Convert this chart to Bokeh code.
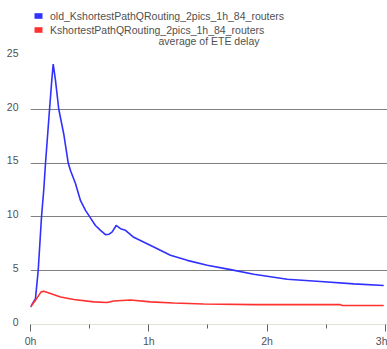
from bokeh.plotting import figure
from bokeh.models import Range1d, FixedTicker, Legend, LegendItem, Label
from bokeh.embed import file_html
from bokeh.resources import INLINE

# data (time in hours, average ETE delay)
old_t = [0.0, 0.042, 0.065, 0.093, 0.112, 0.127, 0.161, 0.180, 0.192, 0.211, 0.239,
         0.281, 0.319, 0.338, 0.380, 0.423, 0.465, 0.501, 0.549, 0.592, 0.634, 0.662,
         0.691, 0.724, 0.761, 0.803, 0.873, 1.042, 1.183, 1.325, 1.494, 1.691, 1.888,
         2.17, 2.451, 2.733, 2.986]
old_v = [1.63, 2.4, 5.0, 10.0, 12.5, 15.0, 20.0, 22.7, 24.2, 22.7, 20.0,
         17.7, 15.0, 14.3, 13.1, 11.5, 10.6, 10.0, 9.2, 8.75, 8.35, 8.38,
         8.6, 9.2, 8.9, 8.75, 8.1, 7.2, 6.43, 5.96, 5.5, 5.1, 4.67,
         4.2, 4.0, 3.77, 3.62]
new_t = [0.0, 0.051, 0.090, 0.112, 0.169, 0.254, 0.366, 0.535, 0.648, 0.704, 0.845,
         1.014, 1.211, 1.465, 1.888, 2.62, 2.635, 2.986]
new_v = [1.63, 2.4, 3.03, 3.09, 2.88, 2.56, 2.32, 2.1, 2.04, 2.19, 2.28,
         2.1, 2.0, 1.91, 1.85, 1.85, 1.76, 1.76]

series_names = ["old_KshortestPathQRouting_2pics_1h_84_routers",
                "KshortestPathQRouting_2pics_1h_84_routers"]
title_text = "average of ETE delay"
x_ticks = [0, 1, 2, 3]
x_tick_labels = ["0h", "1h", "2h", "3h"]
x_minor = [0.5, 1.5, 2.5]
y_ticks = [0, 5, 10, 15, 20, 25]
y_grid = [5, 10, 15, 20]

BLUE = "#3030ff"
RED = "#ff3030"
TXT = "#505050"
FONT = "Liberation Sans"

FRAME_H = 324.5          # frame spans canvas y 0..324.5
PPU = (FRAME_H - 55) / 25.0
Y_TOP = 25 + 55 / PPU
LBL_SHIFT = 0.25         # tick labels sit slightly above their gridlines

p = figure(width=387, height=349, output_backend="svg", toolbar_location=None,
           x_range=Range1d(0, 3.018), y_range=Range1d(0, Y_TOP),
           min_border_left=30, min_border_right=0, min_border_top=0, min_border_bottom=10)
p.outline_line_color = None
p.background_fill_color = "white"

r_old = p.line(old_t, old_v, line_color=BLUE, line_width=1.6)
r_new = p.line(new_t, new_v, line_color=RED, line_width=1.6)

# legend swatches (renderers that draw nothing in the plot, only in the legend)
nan = float("nan")
sw_old = p.quad(top=[nan], bottom=[nan], left=[nan], right=[nan],
                fill_color=BLUE, line_color=None)
sw_new = p.quad(top=[nan], bottom=[nan], left=[nan], right=[nan],
                fill_color=RED, line_color=None)

legend = Legend(items=[LegendItem(label=series_names[0], renderers=[sw_old]),
                       LegendItem(label=series_names[1], renderers=[sw_new])],
                location=(3, FRAME_H - 36), glyph_width=10, glyph_height=7, label_standoff=7,
                label_height=12, spacing=2, padding=0, margin=0,
                border_line_color=None, background_fill_alpha=0,
                label_text_font=FONT, label_text_font_size="10.5px",
                label_text_color=TXT)
p.add_layout(legend)

p.add_layout(Label(x=128, y=FRAME_H - 41, x_units="screen", y_units="screen", text=title_text,
                   text_font=FONT, text_font_size="10.5px", text_color=TXT,
                   text_baseline="middle"))

# x axis
xa = p.xaxis[0]
xa.ticker = FixedTicker(ticks=x_ticks, minor_ticks=x_minor)
xa.major_label_overrides = {t: l for t, l in zip(x_ticks, x_tick_labels)}
xa.axis_line_color = "#e2e2d4"
xa.major_tick_line_color = "#606060"
xa.minor_tick_line_color = "#606060"
xa.major_tick_in = 0
xa.major_tick_out = 7
xa.minor_tick_in = 0
xa.minor_tick_out = 4
xa.major_label_standoff = 3
xa.major_label_text_font = FONT
xa.major_label_text_font_size = "10.5px"
xa.major_label_text_color = TXT

# y axis (labels only)
ya = p.yaxis[0]
ya.ticker = FixedTicker(ticks=[v + LBL_SHIFT for v in y_ticks])
ya.major_label_overrides = {v + LBL_SHIFT: str(v) for v in y_ticks}
ya.axis_line_color = None
ya.major_tick_line_color = None
ya.minor_tick_line_color = None
ya.major_label_standoff = 6
ya.major_label_text_font = FONT
ya.major_label_text_font_size = "10.5px"
ya.major_label_text_color = TXT

p.xgrid.grid_line_color = None
p.ygrid.ticker = FixedTicker(ticks=y_grid)
p.ygrid.grid_line_color = "#808080"
p.ygrid.grid_line_width = 1

open("out.html", "w").write(file_html(p, INLINE))
